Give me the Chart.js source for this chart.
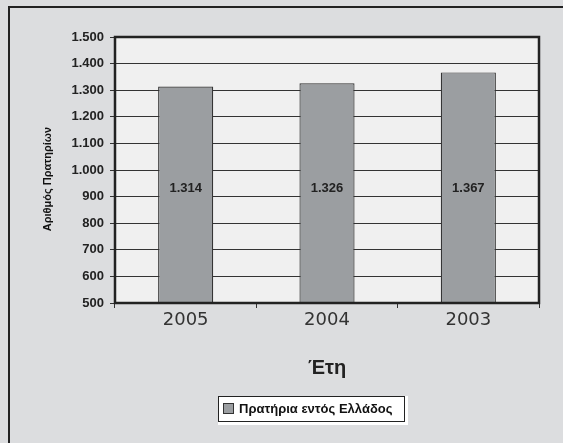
<!DOCTYPE html>
<html>
<head>
<meta charset="utf-8">
<script src="https://cdn.jsdelivr.net/npm/chart.js@4"></script>
<style>
  html, body { margin: 0; padding: 0; background: #dcdddf; }
  #wrap { width: 563px; height: 443px; }
</style>
</head>
<body>
<div id="wrap"><canvas id="barChart" width="563" height="443"></canvas></div>
<script>
const categories = ['2005', '2004', '2003'];
const stations = [1314, 1326, 1367];
const seriesLabel = 'Πρατήρια εντός Ελλάδος';
const yTitle = 'Αριθμός Πρατηρίων';
const xTitle = 'Έτη';
const yMin = 500, yMax = 1500, yStep = 100;

// 1314 -> "1.314"
function greekNum(v) {
    return String(v).replace(/\B(?=(\d{3})+(?!\d))/g, '.');
}

const frame = {
    id: 'frame',
    beforeDraw(chart) {
        const c = chart.ctx, a = chart.chartArea;
        c.save();
        c.fillStyle = '#dcdddf';
        c.fillRect(0, 0, chart.width, chart.height);
        c.strokeStyle = '#222';
        c.lineWidth = 2;
        c.strokeRect(9, 7, chart.width + 20, chart.height + 20);
        c.fillStyle = '#f0f0f0';
        c.fillRect(a.left, a.top, a.right - a.left, a.bottom - a.top);
        c.restore();
    },
    afterDraw(chart) {
        const c = chart.ctx, a = chart.chartArea;
        c.save();
        // plot frame
        c.strokeStyle = '#222';
        c.lineWidth = 2.5;
        c.strokeRect(a.left, a.top, a.right - a.left, a.bottom - a.top);

        // value labels, all on one line inside the bars
        const meta = chart.getDatasetMeta(0);
        const labelY = chart.scales.y.getPixelForValue(930);
        c.fillStyle = '#222';
        c.font = 'bold 13px "Liberation Sans", Arial, sans-serif';
        c.textAlign = 'center';
        c.textBaseline = 'middle';
        meta.data.forEach((bar, i) => {
            c.fillText(greekNum(stations[i]), bar.x, labelY);
        });

        // y axis title
        c.save();
        c.translate(48, 179);
        c.rotate(-Math.PI / 2);
        c.font = 'bold 11px "Liberation Sans", Arial, sans-serif';
        c.fillStyle = '#111';
        c.fillText(yTitle, 0, 0);
        c.restore();

        // legend box
        const lx = 218, ly = 396, lw = 190, lh = 29;
        c.fillStyle = '#ffffff';
        c.fillRect(lx, ly, lw, lh);
        c.strokeStyle = '#222';
        c.lineWidth = 1;
        c.strokeRect(lx + 0.5, ly + 0.5, lw - 4, lh - 4);
        c.fillStyle = '#9b9ea1';
        c.fillRect(lx + 5, ly + 7, 11, 11);
        c.strokeStyle = '#333';
        c.strokeRect(lx + 5.5, ly + 7.5, 10, 10);
        c.fillStyle = '#111';
        c.textAlign = 'left';
        c.font = 'bold 13px "Liberation Sans", Arial, sans-serif';
        c.fillText(chart.data.datasets[0].label, lx + 21, ly + 13);
        c.restore();
    }
};

new Chart(document.getElementById('barChart').getContext('2d'), {
    type: 'bar',
    data: {
        labels: categories,
        datasets: [{
            label: seriesLabel,
            data: stations,
            backgroundColor: '#9b9ea1',
            borderColor: '#333333',
            borderWidth: 1.2,
            barPercentage: 0.39,
            categoryPercentage: 1
        }]
    },
    options: {
        responsive: false,
        animation: false,
        layout: { padding: { top: 37, right: 24, left: 38, bottom: 0 } },
        plugins: {
            legend: { display: false },
            tooltip: { enabled: false }
        },
        scales: {
            x: {
                afterFit(scale) { scale.height = 140; },
                grid: {
                    offset: true,
                    drawOnChartArea: false,
                    tickLength: 5,
                    color: '#333'
                },
                border: { display: false },
                ticks: {
                    color: '#333',
                    padding: 2,
                    font: { family: '"DejaVu Sans", sans-serif', size: 18 }
                },
                title: {
                    display: true,
                    text: xTitle,
                    color: '#222',
                    padding: { bottom: 63 },
                    font: { family: '"Liberation Sans", Arial, sans-serif', size: 20, weight: 'bold' }
                }
            },
            y: {
                min: yMin,
                max: yMax,
                afterFit(scale) { scale.width = 77; },
                grid: {
                    color: '#333',
                    lineWidth: 1,
                    tickLength: 5
                },
                border: { display: false },
                ticks: {
                    stepSize: yStep,
                    color: '#222',
                    padding: 6,
                    font: { family: '"Liberation Sans", Arial, sans-serif', size: 13, weight: 'bold' },
                    callback: v => greekNum(v)
                }
            }
        }
    },
    plugins: [frame]
});
</script>
</body>
</html>
